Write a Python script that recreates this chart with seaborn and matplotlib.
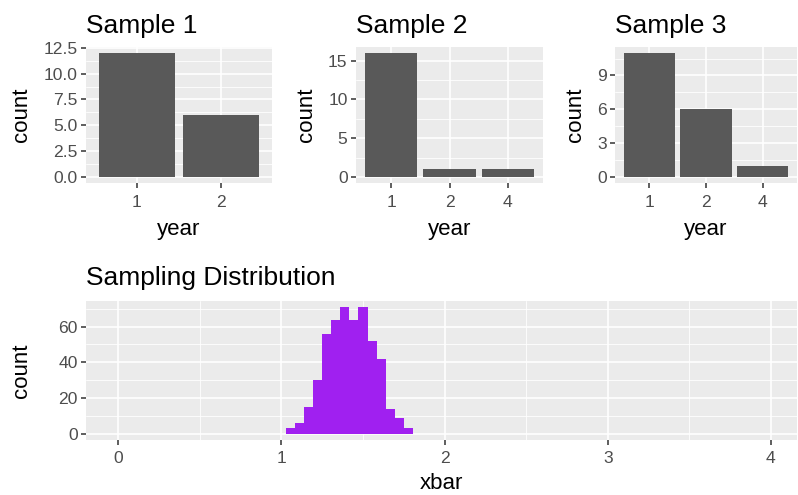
import numpy as np
import matplotlib
matplotlib.use("Agg")
import matplotlib.pyplot as plt
from matplotlib.ticker import MultipleLocator, FixedLocator
import seaborn as sns

# --- data ---
s1_year = ["1", "2"]
s1_count = [12, 6]
s2_year = ["1", "2", "4"]
s2_count = [16, 1, 1]
s3_year = ["1", "2", "4"]
s3_count = [11, 6, 1]

# histogram of sample means (bin edges + counts)
xbar_edges = [1.029, 1.084, 1.140, 1.195, 1.251, 1.306, 1.361, 1.417,
              1.472, 1.528, 1.583, 1.638, 1.694, 1.749, 1.805]
xbar_counts = [3, 6, 15, 30, 56, 64, 71, 64, 71, 52, 42, 14, 9, 3]

sns.set_theme(style="darkgrid", rc={
    "axes.facecolor": "#EBEBEB",
    "grid.color": "white",
    "axes.edgecolor": "none",
    "xtick.color": "#333333",
    "ytick.color": "#333333",
    "xtick.labelcolor": "#4D4D4D",
    "ytick.labelcolor": "#4D4D4D",
    "xtick.bottom": True,
    "ytick.left": True,
    "xtick.major.size": 3.6,
    "ytick.major.size": 3.6,
    "xtick.minor.size": 0,
    "ytick.minor.size": 0,
    "xtick.major.width": 1.1,
    "ytick.major.width": 1.1,
    "xtick.major.pad": 4.5,
    "ytick.major.pad": 2.5,
    "axes.labelcolor": "black",
})
plt.rcParams["font.family"] = ["Liberation Sans", "DejaVu Sans"]

W, H = 798, 495
fig = plt.figure(figsize=(W / 100, H / 100), dpi=100)


def px_axes(x0, y0, x1, y1):
    return fig.add_axes([x0 / W, 1 - y1 / H, (x1 - x0) / W, (y1 - y0) / H])


def style(ax, title, xlabel, ylabel, major_y, minor_y, ylim, tpad=10):
    ax.set_title(title, loc="left", fontsize=19, pad=tpad, color="black")
    ax.set_xlabel(xlabel, fontsize=16, labelpad=7)
    ax.set_ylabel(ylabel, fontsize=16, labelpad=8)
    ax.tick_params(labelsize=12.6)
    ax.set_ylim(*ylim)
    ax.yaxis.set_major_locator(FixedLocator(major_y))
    ax.yaxis.set_minor_locator(FixedLocator(minor_y))
    ax.grid(which="major", color="white", linewidth=1.2)
    ax.grid(which="minor", color="white", linewidth=0.6)
    ax.set_axisbelow(True)
    for sp in ax.spines.values():
        sp.set_visible(False)


def bars(ax, years, counts):
    sns.barplot(x=years, y=counts, order=years, color="#595959",
                saturation=1, width=0.9, ax=ax, linewidth=0)
    ax.set_xlim(-0.6, len(years) - 0.4)
    ax.grid(which="major", axis="x", color="white", linewidth=1.2)


ax1 = px_axes(86, 46.7, 272, 183.3)
bars(ax1, s1_year, s1_count)
style(ax1, "Sample 1", "year", "count",
      [0, 2.5, 5, 7.5, 10, 12.5], [1.25, 3.75, 6.25, 8.75, 11.25], (-0.6, 12.6))
ax1.set_yticklabels(["0.0", "2.5", "5.0", "7.5", "10.0", "12.5"])

ax2 = px_axes(356, 46.7, 543, 183.3)
bars(ax2, s2_year, s2_count)
style(ax2, "Sample 2", "year", "count",
      [0, 5, 10, 15], [2.5, 7.5, 12.5], (-0.8, 16.8))

ax3 = px_axes(615, 46.7, 797, 183.3)
bars(ax3, s3_year, s3_count)
style(ax3, "Sample 3", "year", "count",
      [0, 3, 6, 9], [1.5, 4.5, 7.5, 10.5], (-0.55, 11.55))

ax4 = px_axes(86, 300.7, 797, 440)
centers = [(a + b) / 2 for a, b in zip(xbar_edges[:-1], xbar_edges[1:])]
sns.histplot(x=centers, weights=xbar_counts, bins=xbar_edges,
             color="#A020F0", alpha=1, linewidth=0, ax=ax4)
style(ax4, "Sampling Distribution", "xbar", "count",
      [0, 20, 40, 60], [10, 30, 50, 70], (-3.55, 74.55), tpad=11.5)
ax4.set_xlim(-0.198, 4.16)
ax4.xaxis.set_major_locator(MultipleLocator(1))
ax4.xaxis.set_minor_locator(MultipleLocator(0.5))
ax4.yaxis.labelpad = 19
ax4.xaxis.labelpad = 5

fig.savefig("out.png", dpi=100)
